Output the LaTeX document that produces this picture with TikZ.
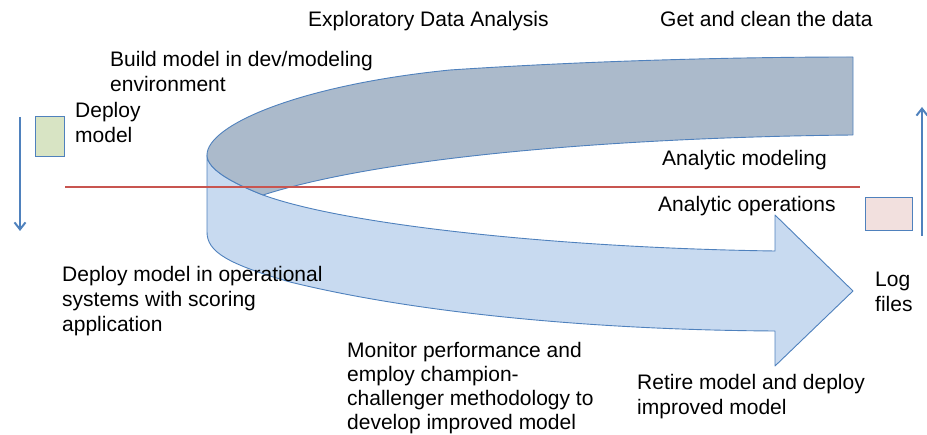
\documentclass[tikz,border=0pt]{standalone}
\usepackage{fontspec}
\setmainfont{Liberation Sans}
\usetikzlibrary{arrows.meta}
\definecolor{edgeblue}{RGB}{79,129,189}
\definecolor{bandtop}{RGB}{171,186,203}
\definecolor{bandlow}{RGB}{200,218,240}
\definecolor{divider}{RGB}{200,85,80}
\definecolor{greenbox}{RGB}{216,228,196}
\definecolor{pinkbox}{RGB}{242,224,222}
\begin{document}
\begin{tikzpicture}[x=1pt,y=-1pt,
  lbl/.style={anchor=base west,inner sep=0pt,align=left,
    font=\fontsize{21}{25}\selectfont},
  band/.style={draw=edgeblue,line width=0.9pt,line join=round},
  flow/.style={draw=edgeblue,line width=2pt,-{Straight Barb[length=7pt,width=11pt,line width=2pt]}},
  marker/.style={draw=edgeblue,line width=1pt}]
\useasboundingbox (0,0) rectangle (927,435);

% ribbon key points
\coordinate (lm) at (207,155);   % leftmost turn of the ribbon
\coordinate (mp) at (263,195);   % where the upper band meets the lower band

% lower band: curved arrow running into operations
\path[band,fill=bandlow]
  (lm) -- (207,232)
  .. controls (207,252) and (228,264) .. (290,282)
  .. controls (420,314) and (600,330) .. (775,331)
  -- (775,366) -- (853,291) -- (775,215) -- (775,251)
  .. controls (560,248) and (345,225) .. (mp)
  .. controls (235,184) and (207,170) .. (lm) -- cycle;

% upper band: the modeling side of the loop
\path[band,fill=bandtop]
  (853,57) -- (853,135)
  .. controls (650,137) and (395,153) .. (mp)
  .. controls (235,184) and (207,170) .. (lm)
  .. controls (207,125) and (300,85) .. (450,70)
  .. controls (600,60) and (750,57) .. (853,57) -- cycle;

% divider between modeling and operations
\draw[divider,line width=2.4pt] (65,187) coordinate (dl) -- (860,187) coordinate (dr);

% small boxes
\node[marker,fill=greenbox,minimum width=29pt,minimum height=40pt,inner sep=0pt] (gbox) at (49.5,137) {};
\node[marker,fill=pinkbox,minimum width=47pt,minimum height=33pt,inner sep=0pt] (pbox) at (888.5,214.5) {};

% vertical direction arrows
\coordinate (dtop) at (20,117);
\coordinate (dbot) at (20,231);
\draw[flow] (dtop) -- (dbot);
\coordinate (ubot) at (922,236);
\coordinate (utop) at (922,107);
\draw[flow] (ubot) -- (utop);

% labels (multi-line nodes sit on the baseline of their last line)
\node[lbl] (eda) at (308,27) {Exploratory Data Analysis};
\node[lbl] (clean) at (660,27) {Get and clean the data};
\node[lbl] (build) at (110,92) {Build model in dev/modeling\\environment};
\node[lbl] (deploy) at (75,143) {Deploy\\model};
\node[lbl] (amod) at (662,166) {Analytic modeling};
\node[lbl] (aops) at (658,212) {Analytic operations};
\node[lbl] (opsys) at (62,332) {Deploy model in operational\\systems with scoring\\application};
\node[lbl] (logs) at (875,312) {Log\\files};
\node[lbl,font=\fontsize{21}{24}\selectfont] (monitor) at (347,430) {Monitor performance and\\employ champion-\\challenger methodology to\\develop improved model};
\node[lbl] (retire) at (637,415) {Retire model and deploy\\improved model};
\end{tikzpicture}
\end{document}
